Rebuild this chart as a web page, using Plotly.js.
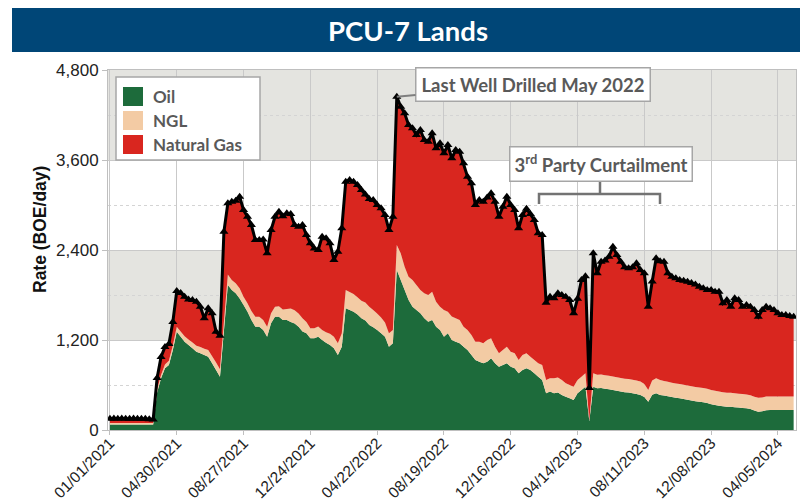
<!DOCTYPE html>
<html>
<head>
<meta charset="utf-8">
<script src="https://cdn.plot.ly/plotly-3.0.1.min.js"></script>
<style>
  html, body { margin: 0; padding: 0; background: #fff; }
  #plotArea { width: 800px; height: 503px; }
</style>
</head>
<body>
<div id="plotArea"></div>
<script>
// weekly production, first week 01/01/2021
var startDate = "2021-01-01";

var total = [
  150, 155, 150, 155, 150, 150, 155, 150, 150, 150,
  145, 140, 693, 973, 1107, 1147, 1440, 1853, 1827, 1777,
  1740, 1733, 1711, 1644, 1489, 1622, 1556, 1311, 1257, 2644,
  3022, 3044, 3057, 3111, 2933, 2844, 2733, 2533, 2533, 2540,
  2356, 2667, 2844, 2911, 2850, 2889, 2880, 2734, 2711, 2734,
  2600, 2489, 2420, 2400, 2578, 2556, 2489, 2267, 2378, 2689,
  3311, 3333, 3311, 3267, 3200, 3140, 3080, 3067, 3000, 2956,
  2867, 2667, 2845, 4445, 4311, 4222, 4067, 4022, 3933, 4000,
  3867, 3845, 3956, 3756, 3822, 3689, 3800, 3622, 3733, 3711,
  3556, 3378, 3289, 3000, 3067, 3044, 3100, 3156, 3044, 2844,
  2978, 3111, 3000, 2933, 2689, 2867, 2950, 2880, 2800, 2622,
  2600, 1698, 1778, 1756, 1822, 1800, 1778, 1733, 1556, 1750,
  2000, 2050, 560, 2356, 2089, 2245, 2260, 2311, 2444, 2333,
  2244, 2170, 2156, 2170, 2222, 2134, 2089, 1645, 1980, 2289,
  2250, 2245, 2089, 2045, 2022, 2000, 1990, 1978, 1960, 1940,
  1911, 1889, 1867, 1867, 1845, 1845, 1689, 1733, 1645, 1756,
  1733, 1645, 1667, 1645, 1600, 1511, 1600, 1645, 1622, 1600,
  1556, 1534, 1534, 1520, 1511
];

var oil = [
  75, 75, 75, 75, 75, 75, 75, 75, 75, 75,
  75, 75, 500, 690, 822, 867, 1067, 1311, 1244, 1178,
  1133, 1089, 1044, 1022, 1000, 978, 889, 800, 711, 1320,
  1933, 1867, 1822, 1755, 1667, 1578, 1467, 1378, 1378, 1333,
  1244, 1422, 1511, 1511, 1467, 1467, 1440, 1420, 1378, 1312,
  1289, 1222, 1222, 1245, 1200, 1165, 1134, 1089, 1000, 1111,
  1623, 1600, 1578, 1540, 1489, 1460, 1400, 1370, 1333, 1290,
  1245, 1111, 1156, 2134, 2000, 1867, 1734, 1645, 1600, 1556,
  1489, 1445, 1467, 1378, 1334, 1245, 1289, 1200, 1178, 1156,
  1111, 1067, 1000, 934, 911, 889, 911, 956, 889, 845,
  867, 889, 845, 823, 756, 800, 823, 800, 756, 711,
  667, 489, 512, 489, 500, 467, 445, 423, 400, 489,
  533, 578, 120, 578, 556, 560, 550, 542, 534, 525,
  515, 505, 500, 490, 480, 467, 440, 378, 470, 489,
  467, 460, 450, 440, 430, 423, 415, 405, 395, 385,
  378, 370, 360, 345, 334, 325, 318, 311, 311, 305,
  300, 295, 289, 280, 260, 245, 250, 262, 267, 267,
  267, 267, 267, 267, 267
];

var ngl = [
  20, 20, 20, 20, 20, 20, 20, 20, 20, 20,
  20, 20, 40, 45, 50, 55, 60, 67, 70, 72,
  75, 78, 80, 85, 85, 90, 95, 100, 100, 120,
  142, 133, 135, 135, 111, 111, 120, 133, 133, 135,
  134, 135, 133, 140, 140, 145, 180, 178, 175, 177,
  150, 134, 134, 135, 133, 140, 150, 156, 156, 178,
  244, 240, 235, 230, 235, 240, 245, 230, 220, 210,
  190, 178, 178, 333, 356, 311, 311, 355, 334, 311,
  334, 355, 378, 333, 311, 355, 289, 312, 311, 311,
  267, 267, 267, 244, 267, 267, 289, 267, 222, 178,
  200, 222, 200, 200, 178, 200, 200, 178, 178, 178,
  200, 178, 177, 200, 200, 200, 178, 177, 178, 178,
  178, 178, 10, 178, 180, 180, 180, 180, 180, 180,
  180, 180, 180, 180, 180, 180, 175, 156, 190, 200,
  200, 195, 195, 190, 190, 190, 190, 190, 190, 190,
  190, 190, 190, 190, 190, 190, 185, 185, 185, 185,
  185, 185, 185, 185, 185, 185, 185, 185, 180, 180,
  180, 180, 180, 180, 180
];

var tickDates = ["2021-01-01", "2021-04-30", "2021-08-27", "2021-12-24", "2022-04-22",
  "2022-08-19", "2022-12-16", "2023-04-14", "2023-08-11", "2023-12-08", "2024-04-05"];
var tickLabels = ["01/01/2021", "04/30/2021", "08/27/2021", "12/24/2021", "04/22/2022",
  "08/19/2022", "12/16/2022", "04/14/2023", "08/11/2023", "12/08/2023", "04/05/2024"];

var legendNames = ["Oil", "NGL", "Natural Gas"];
var colors = ["#1d6b3b", "#f3cba4", "#d9261f"];

// week dates and natural gas as the rest of the total
var DAY = 86400000;
var t0 = new Date(startDate + "T00:00:00Z").getTime();
var dates = total.map(function (v, i) {
  return new Date(t0 + i * 7 * DAY).toISOString().slice(0, 10);
});
var gas = total.map(function (v, i) { return v - oil[i] - ngl[i]; });

function area(name, y, color) {
  return {
    x: dates, y: y, name: name, type: "scatter", mode: "none",
    stackgroup: "one", fillcolor: color, line: {width: 0},
    showlegend: false, hoverinfo: "skip"
  };
}

var totalTrace = {
  x: dates, y: total, type: "scatter", mode: "lines+markers",
  line: {color: "#000", width: 3},
  marker: {symbol: "triangle-up", size: 8, color: "#000"},
  showlegend: false
};

var data = [
  area(legendNames[0], oil, colors[0]),
  area(legendNames[1], ngl, colors[1]),
  area(legendNames[2], gas, colors[2]),
  totalTrace
];

// page pixels -> paper coordinates
var L = 108, R = 796, T = 70, B = 430;
function px(x) { return (x - L) / (R - L); }
function py(y) { return (B - y) / (B - T); }

var gridCol = "#c9c9c9";
var legendFont = {family: "Lato", size: 17, color: "#595959", weight: "bold"};
var boxFont = {family: "Lato", size: 18.5, color: "#595959", weight: "bold"};

var shapes = [
  // grey bands
  {type: "rect", xref: "paper", yref: "y", x0: 0, x1: 1, y0: 1200, y1: 2400,
   fillcolor: "#e4e4e0", line: {width: 0}, layer: "below"},
  {type: "rect", xref: "paper", yref: "y", x0: 0, x1: 1, y0: 3600, y1: 4800,
   fillcolor: "#e4e4e0", line: {width: 0}, layer: "below"},
  // title bar
  {type: "rect", xref: "paper", yref: "paper", x0: px(12), x1: px(802), y0: py(52), y1: py(8),
   fillcolor: "#004677", line: {width: 0}},
  // legend box
  {type: "rect", xref: "paper", yref: "paper", x0: px(116), x1: px(260), y0: py(160), y1: py(77),
   fillcolor: "#fff", line: {color: "#a6a6a6", width: 1.5}},
  // curtailment bracket
  {type: "path", xref: "paper", yref: "paper",
   path: "M" + px(539) + "," + py(204) + " L" + px(539) + "," + py(194) +
         " L" + px(660) + "," + py(194) + " L" + px(660) + "," + py(204) +
         " M" + px(600) + "," + py(194) + " L" + px(600) + "," + py(181),
   line: {color: "#737373", width: 2.5}}
];

var annotations = [
  {x: dates[73], y: total[73], xref: "x", yref: "y", text: "Last Well Drilled May 2022",
   showarrow: true, arrowhead: 0, arrowwidth: 2, arrowcolor: "#7f7f7f", ax: 136, ay: -12,
   bgcolor: "#fff", bordercolor: "#a6a6a6", borderwidth: 1.5, borderpad: 5, font: boxFont},
  {x: px(601), y: py(163.5), xref: "paper", yref: "paper", xanchor: "center", yanchor: "middle",
   showarrow: false, text: "3<sup>rd</sup> Party Curtailment",
   bgcolor: "#fff", bordercolor: "#a6a6a6", borderwidth: 1.5, borderpad: 4, font: boxFont},
  // y axis title
  {x: px(40), y: py(230), xref: "paper", yref: "paper", xanchor: "center", yanchor: "middle",
   showarrow: false, textangle: -90, text: "Rate (BOE/day)",
   font: {family: "Liberation Sans", size: 17.5, color: "#111", weight: "bold"}}
];

// manual legend with square swatches
var swatchTop = [87, 111, 135];
for (var i = 0; i < legendNames.length; i++) {
  shapes.push({type: "rect", xref: "paper", yref: "paper",
    x0: px(123), x1: px(143), y0: py(swatchTop[i] + 19), y1: py(swatchTop[i]),
    fillcolor: colors[i], line: {width: 0}});
  annotations.push({x: px(151), y: py(swatchTop[i] + 9.5), xref: "paper", yref: "paper",
    xanchor: "left", yanchor: "middle", showarrow: false, text: legendNames[i], font: legendFont});
}

var layout = {
  width: 800, height: 503,
  margin: {l: L, r: 800 - R, t: T, b: 503 - B},
  paper_bgcolor: "#fff", plot_bgcolor: "#fff",
  title: {text: "PCU-7 Lands", xref: "container", yref: "container",
          x: 408 / 800, xanchor: "center", y: 1 - 31 / 503, yanchor: "middle",
          font: {family: "Lato", size: 27.5, color: "#fff", weight: "bold"}},
  xaxis: {
    type: "date",
    range: [new Date(t0 - 3.5 * DAY).toISOString(), new Date(t0 + 174.6 * 7 * DAY).toISOString()],
    tickmode: "array", tickvals: tickDates, ticktext: tickLabels, tickangle: -45,
    tickfont: {family: "Liberation Sans", size: 15.5, color: "#222"},
    ticklabelstandoff: -7,
    showgrid: true, gridcolor: gridCol, gridwidth: 1,
    showline: true, linecolor: "#bfbfbf", mirror: true,
    ticks: "outside", ticklen: 4, tickcolor: "#bfbfbf", zeroline: false
  },
  yaxis: {
    range: [0, 4800], dtick: 1200, tickformat: ",d",
    tickfont: {family: "Liberation Sans", size: 17, color: "#222"},
    showgrid: true, gridcolor: gridCol, gridwidth: 1,
    minor: {dtick: 600, showgrid: true, gridcolor: "#d4d4d4", griddash: "dot", gridwidth: 1},
    showline: true, linecolor: "#bfbfbf", mirror: true,
    ticks: "outside", ticklen: 5, tickcolor: "#bfbfbf", zeroline: false
  },
  shapes: shapes,
  annotations: annotations,
  showlegend: false
};

Plotly.newPlot("plotArea", data, layout, {displayModeBar: false, staticPlot: true});
</script>
</body>
</html>
